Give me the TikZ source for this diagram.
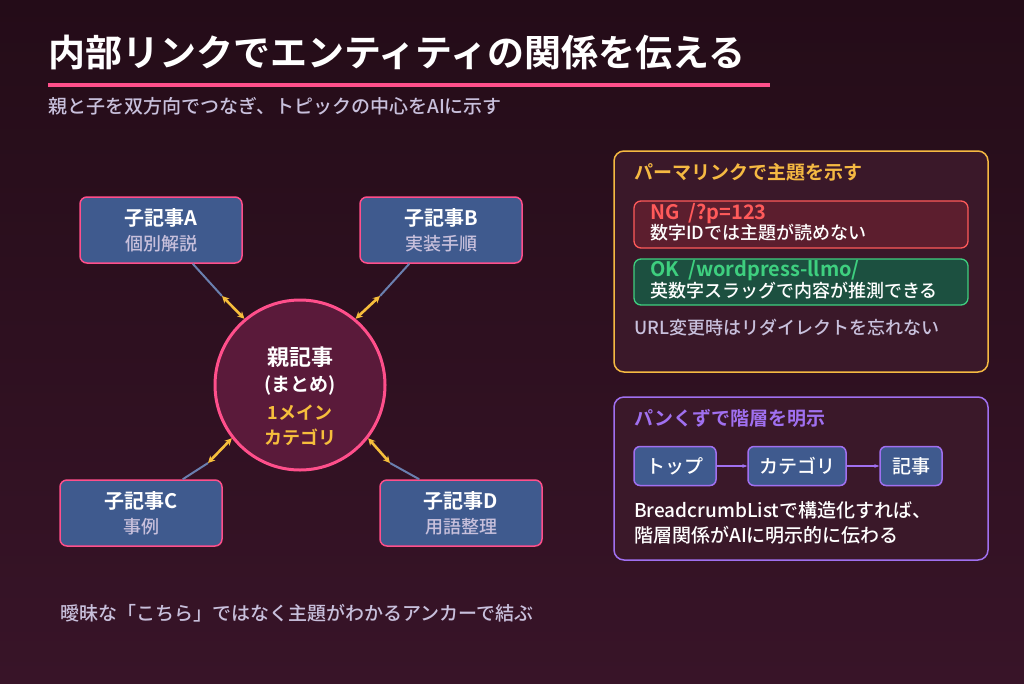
\documentclass[tikz,border=0pt]{standalone}
\usepackage{fontspec}
\setmainfont{Noto Sans CJK JP Medium}
\newfontfamily\jpb{Noto Sans CJK JP Bold}
\usetikzlibrary{arrows.meta}
\definecolor{bgA}{HTML}{240C18}
\definecolor{bgB}{HTML}{381428}
\definecolor{pinkc}{HTML}{FF4F8B}
\definecolor{childf}{HTML}{3F5A8E}
\definecolor{circf}{HTML}{5A1A3A}
\definecolor{yel}{HTML}{F6BE3C}
\definecolor{linkc}{HTML}{6A7FAF}
\definecolor{sub}{HTML}{C8C0DC}
\definecolor{panelf}{HTML}{3A1829}
\definecolor{orn}{HTML}{F5B942}
\definecolor{ngf}{HTML}{5C1E2E}
\definecolor{ngb}{HTML}{FF5A5A}
\definecolor{okf}{HTML}{1C5040}
\definecolor{okb}{HTML}{3ECF7F}
\definecolor{purp}{HTML}{A070F0}
\definecolor{chip}{HTML}{3F5A8E}
\newcommand{\fs}[1]{\fontsize{#1}{#1}\selectfont}
\begin{document}
\begin{tikzpicture}[x=1pt,y=-1pt,
  child/.style={draw=pinkc,line width=1.5pt,fill=childf,rounded corners=7pt,minimum width=162pt,minimum height=66pt,align=center,inner sep=0pt},
  panel/.style={line width=1.5pt,fill=panelf,rounded corners=10pt},
  lk/.style={draw=linkc,line width=2pt},
  yk/.style={draw=yel,line width=2.6pt,{Stealth[length=7pt,width=7pt]}-{Stealth[length=7pt,width=7pt]}},
  chipst/.style={draw=purp,line width=1.5pt,fill=chip,rounded corners=6pt,minimum height=39pt,inner sep=0pt,font=\fs{19}\color{white}},
  parr/.style={draw=purp,line width=1.2pt,-{Stealth[length=5pt]}}]
\shade[top color=bgA,bottom color=bgB] (0,0) rectangle (1024,683);
\useasboundingbox (0,0) rectangle (1024,683);
\node[anchor=west,text=white,inner sep=0pt] (title) at (48,52) {\jpb\fs{37}内部リンクでエンティティの関係を伝える};
\draw[pinkc,line width=4pt] (48,85) -- (770,85);
\node[anchor=west,text=sub,inner sep=0pt] (subt) at (48,106) {\fs{19}親と子を双方向でつなぎ、トピックの中心をAIに示す};
% children
\node[child] (A) at (161,230) {\jpb\fs{20}\color{white}子記事A\\[7pt]\fs{18}\color{sub}個別解説};
\node[child] (B) at (441,230) {\jpb\fs{20}\color{white}子記事B\\[7pt]\fs{18}\color{sub}実装手順};
\node[child] (C) at (141,513) {\jpb\fs{20}\color{white}子記事C\\[7pt]\fs{18}\color{sub}事例};
\node[child] (D) at (461,513) {\jpb\fs{20}\color{white}子記事D\\[7pt]\fs{18}\color{sub}用語整理};
\node[circle,draw=pinkc,line width=3pt,fill=circf,minimum size=170pt,inner sep=0pt] (P) at (300,385) {};
\node[text=white] (p1) at (300,357) {\jpb\fs{22}親記事};
\node[text=white] (p2) at (300,385) {\jpb\fs{19}(まとめ)};
\node[text=yel] (p3) at (300,413) {\jpb\fs{18}1メイン};
\node[text=yel] (p4) at (300,437) {\jpb\fs{18}カテゴリ};
% connectors
\coordinate (ja) at (222,296); \coordinate (jb) at (380,296);
\coordinate (jc) at (208,463); \coordinate (jd) at (390,463);
\draw[lk] (A.south east) ++(-50,0) -- (ja);
\draw[lk] (B.south west) ++(50,0) -- (jb);
\draw[lk] (C.north east) ++(-40,0) -- (jc);
\draw[lk] (D.north west) ++(40,0) -- (jd);
\draw[yk] (ja) -- (P.130);
\draw[yk] (jb) -- (P.50);
\draw[yk] (jc) -- (P.218);
\draw[yk] (jd) -- (P.322);
% panel 1
\draw[panel,draw=orn] (614,151) rectangle (988,372);
\node[anchor=west,inner sep=0pt,text=orn] (p1t) at (634,172) {\jpb\fs{19}パーマリンクで主題を示す};
\node[draw=ngb,line width=1.3pt,fill=ngf,rounded corners=7pt,minimum width=334pt,minimum height=47pt] (ng) at (801,224.5) {};
\node[anchor=west,inner sep=0pt,text=ngb] at (650,214) {\jpb\fs{20}NG\ \ /?p=123};
\node[anchor=west,inner sep=0pt,text=white] at (650,233) {\fs{18}数字IDでは主題が読めない};
\node[draw=okb,line width=1.3pt,fill=okf,rounded corners=7pt,minimum width=334pt,minimum height=46pt] (ok) at (801,282) {};
\node[anchor=west,inner sep=0pt,text=okb] at (650,271) {\jpb\fs{20}OK\ \ /wordpress-llmo/};
\node[anchor=west,inner sep=0pt,text=white] at (650,291) {\fs{18}英数字スラッグで内容が推測できる};
\node[anchor=west,inner sep=0pt,text=sub] at (634,328) {\fs{18}URL変更時はリダイレクトを忘れない};
% panel 2
\draw[panel,draw=purp] (614,397) rectangle (988,560);
\node[anchor=west,inner sep=0pt,text=purp] at (634,418) {\jpb\fs{19}パンくずで階層を明示};
\node[chipst,minimum width=82pt] (c1) at (675,466) {トップ};
\node[chipst,minimum width=98pt] (c2) at (797,466) {カテゴリ};
\node[chipst,minimum width=62pt] (c3) at (911,466) {記事};
\draw[parr] (c1) -- (c2);
\draw[parr] (c2) -- (c3);
\node[anchor=west,inner sep=0pt,text=white] at (634,510) {\fs{19}BreadcrumbListで構造化すれば、};
\node[anchor=west,inner sep=0pt,text=white] at (634,535) {\fs{19}階層関係がAIに明示的に伝わる};
% footer
\node[anchor=west,inner sep=0pt,text=sub] at (60,613) {\fs{19}曖昧な「こちら」ではなく主題がわかるアンカーで結ぶ};
\end{tikzpicture}
\end{document}
